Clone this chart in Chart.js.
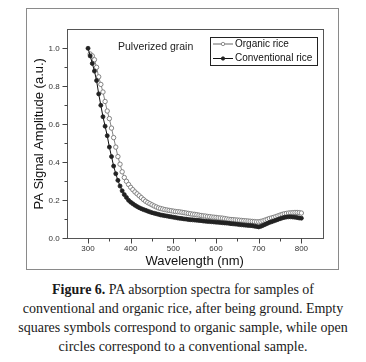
<!DOCTYPE html>
<html><head><meta charset="utf-8">
<script src="https://cdn.jsdelivr.net/npm/chart.js@4"></script>
<style>
body{margin:0;background:#fff;width:366px;height:362px;overflow:hidden}
#wrap{position:relative;width:366px;height:275px}
#cap{margin-top:5px;font-family:"Liberation Serif","Times New Roman",serif;font-size:14px;line-height:19px;text-align:center;color:#1a1a1a;white-space:nowrap}
</style></head><body>
<div id="wrap"><canvas id="c" width="366" height="275"></canvas></div>
<div id="cap"><b>Figure 6.</b> PA absorption spectra for samples of<br>conventional and organic rice, after being ground. Empty<br>squares symbols correspond to organic sample, while open<br>circles correspond to a conventional sample.</div>
<script>
const wavelength = [
300,305,310,315,320,325,330,335,340,345,
350,355,360,365,370,375,380,385,390,395,
400,405,410,415,420,425,430,435,440,445,
450,455,460,465,470,475,480,485,490,495,
500,505,510,515,520,525,530,535,540,545,
550,555,560,565,570,575,580,585,590,595,
600,605,610,615,620,625,630,635,640,645,
650,655,660,665,670,675,680,685,690,695,
700,705,710,715,720,725,730,735,740,745,
750,755,760,765,770,775,780,785,790,795,
800];
const organicRice = [
null,0.97,0.96,0.94,0.90,0.85,0.81,0.77,0.72,0.67,
0.63,0.58,0.53,0.48,0.43,0.39,0.35,0.32,0.30,0.283,
0.268,0.256,0.244,0.234,0.224,0.214,0.204,0.195,0.188,0.182,
0.176,0.170,0.165,0.160,0.157,0.154,0.151,0.149,0.147,0.145,
0.143,0.141,0.140,0.139,0.137,0.135,0.133,0.131,0.129,0.127,
0.126,0.124,0.122,0.120,0.118,0.117,0.115,0.114,0.112,0.111,
0.110,0.108,0.107,0.106,0.104,0.102,0.100,0.099,0.098,0.097,
0.096,0.095,0.094,0.093,0.092,0.091,0.090,0.089,0.088,0.087,
0.087,0.089,0.092,0.096,0.100,0.104,0.107,0.110,0.114,0.118,
0.122,0.126,0.129,0.131,0.133,0.134,0.135,0.136,0.136,0.135,
0.133];
const conventionalRice = [
1.00,0.96,0.92,0.88,0.83,0.76,0.70,0.64,0.59,0.54,
0.48,0.43,0.38,0.34,0.305,0.275,0.25,0.23,0.215,0.20,
0.19,0.182,0.174,0.167,0.161,0.156,0.151,0.147,0.143,0.139,
0.135,0.132,0.129,0.126,0.123,0.121,0.119,0.117,0.115,0.113,
0.111,0.109,0.107,0.105,0.104,0.102,0.101,0.099,0.098,0.097,
0.096,0.095,0.094,0.093,0.091,0.090,0.089,0.088,0.087,0.086,
0.085,0.084,0.083,0.082,0.081,0.080,0.079,0.077,0.076,0.075,
0.074,0.072,0.071,0.070,0.069,0.068,0.067,0.066,0.064,0.062,
0.060,0.063,0.068,0.073,0.078,0.083,0.087,0.091,0.095,0.099,
0.103,0.107,0.110,0.112,0.113,0.113,0.112,0.111,0.109,0.107,
0.106];
const xMajorTicks = [300,400,500,600,700,800];
const xMinorTicks = [350,450,550,650,750];
const yMajorTicks = [0,0.2,0.4,0.6,0.8,1.0];
const yMinorTicks = [0.1,0.3,0.5,0.7,0.9];
const seriesNames = ['Conventional rice','Organic rice'];
const insideLabel = 'Pulverized grain';

const toPts = arr => wavelength.map((w,i)=>({x:w,y:arr[i]}));

const framePlugin = {
  id:'frame',
  beforeDraw(chart){
    const ctx = chart.ctx;
    ctx.save();
    ctx.fillStyle='#fff';ctx.fillRect(0,0,chart.width,chart.height);
    ctx.strokeStyle='#8a8a8a';ctx.lineWidth=1;
    ctx.strokeRect(26.5,8.5,312,261);
    ctx.restore();
  },
  afterDraw(chart){
    const ctx = chart.ctx, a = chart.chartArea;
    const xs = chart.scales.x, ys = chart.scales.y;
    ctx.save();
    ctx.strokeStyle='#555';ctx.lineWidth=1;
    ctx.strokeRect(Math.round(a.left)+0.5,Math.round(a.top)+0.5,Math.round(a.right-a.left),Math.round(a.bottom-a.top));
    ctx.strokeStyle='#444';
    ctx.beginPath();
    const yb = Math.round(a.bottom)+0.5, xl = Math.round(a.left)+0.5;
    xMajorTicks.forEach(v=>{const p=Math.round(xs.getPixelForValue(v))+0.5;ctx.moveTo(p,yb);ctx.lineTo(p,yb+5);});
    xMinorTicks.forEach(v=>{const p=Math.round(xs.getPixelForValue(v))+0.5;ctx.moveTo(p,yb);ctx.lineTo(p,yb+3);});
    yMajorTicks.forEach(v=>{const p=Math.round(ys.getPixelForValue(v))+0.5;ctx.moveTo(xl,p);ctx.lineTo(xl-5,p);});
    yMinorTicks.forEach(v=>{const p=Math.round(ys.getPixelForValue(v))+0.5;ctx.moveTo(xl,p);ctx.lineTo(xl-3,p);});
    ctx.stroke();
    ctx.fillStyle='#222';
    ctx.font='10.5px "Liberation Sans", Arial, sans-serif';
    ctx.textBaseline='middle';ctx.textAlign='left';
    ctx.fillText(insideLabel,118,47);
    const lx=210.5, ly=37.5, lw=107, lh=28;
    ctx.strokeStyle='#222';ctx.lineWidth=1;
    ctx.fillStyle='#fff';ctx.fillRect(lx,ly,lw,lh);
    ctx.strokeRect(lx,ly,lw,lh);
    const order=[1,0];
    order.forEach((di,k)=>{
      const ds = chart.data.datasets[di];
      const yy = 44+k*14.5;
      ctx.strokeStyle=ds.borderColor;ctx.lineWidth=1;
      ctx.beginPath();ctx.moveTo(213,yy);ctx.lineTo(233,yy);ctx.stroke();
      ctx.beginPath();ctx.arc(223,yy,1.7,0,Math.PI*2);
      ctx.fillStyle=ds.pointBackgroundColor;ctx.fill();
      ctx.strokeStyle=ds.pointBorderColor;ctx.lineWidth=0.8;ctx.stroke();
      ctx.fillStyle='#111';
      ctx.font='10px "Liberation Sans", Arial, sans-serif';
      ctx.fillText(ds.label,235,yy);
    });
    ctx.restore();
  }
};

new Chart(document.getElementById('c'),{
  type:'scatter',
  data:{datasets:[
    {label:seriesNames[0],data:toPts(conventionalRice),showLine:true,borderColor:'#111',borderWidth:1,
     pointRadius:2.0,pointBackgroundColor:'#222',pointBorderColor:'#222',pointBorderWidth:0.8},
    {label:seriesNames[1],data:toPts(organicRice),showLine:true,borderColor:'#666',borderWidth:0.8,
     pointRadius:2.2,pointBackgroundColor:'#fff',pointBorderColor:'#777',pointBorderWidth:0.9}
  ]},
  options:{
    responsive:false,animation:false,devicePixelRatio:1,
    layout:{padding:{left:30,right:43.3,top:29.3,bottom:6.2}},
    plugins:{legend:{display:false},tooltip:{enabled:false}},
    scales:{
      x:{type:'linear',min:250,max:850,
        afterBuildTicks:s=>{s.ticks=xMajorTicks.map(v=>({value:v}));},
        afterFit:s=>{s.height=30.5;},
        grid:{display:false,drawTicks:true,tickLength:5},border:{display:false},
        ticks:{padding:1,color:'#333',font:{family:'"Liberation Sans", Arial, sans-serif',size:8},maxRotation:0,autoSkip:false,callback:v=>String(v)},
        title:{display:true,text:'Wavelength (nm)',color:'#111',padding:{top:0,bottom:0},font:{family:'"Liberation Sans", Arial, sans-serif',size:13}}},
      y:{type:'linear',min:0,max:1.1,
        afterBuildTicks:s=>{s.ticks=yMajorTicks.map(v=>({value:v}));},
        afterFit:s=>{s.width=36.7;},
        grid:{display:false,drawTicks:true,tickLength:5},border:{display:false},
        ticks:{padding:2,color:'#333',font:{family:'"Liberation Sans", Arial, sans-serif',size:8},autoSkip:false,callback:v=>Number(v).toFixed(1)},
        title:{display:true,text:'PA Signal Amplitude (a.u.)',color:'#111',padding:{top:2,bottom:0},font:{family:'"Liberation Sans", Arial, sans-serif',size:13}}}
    }
  },
  plugins:[framePlugin]
});
</script>
</body></html>
